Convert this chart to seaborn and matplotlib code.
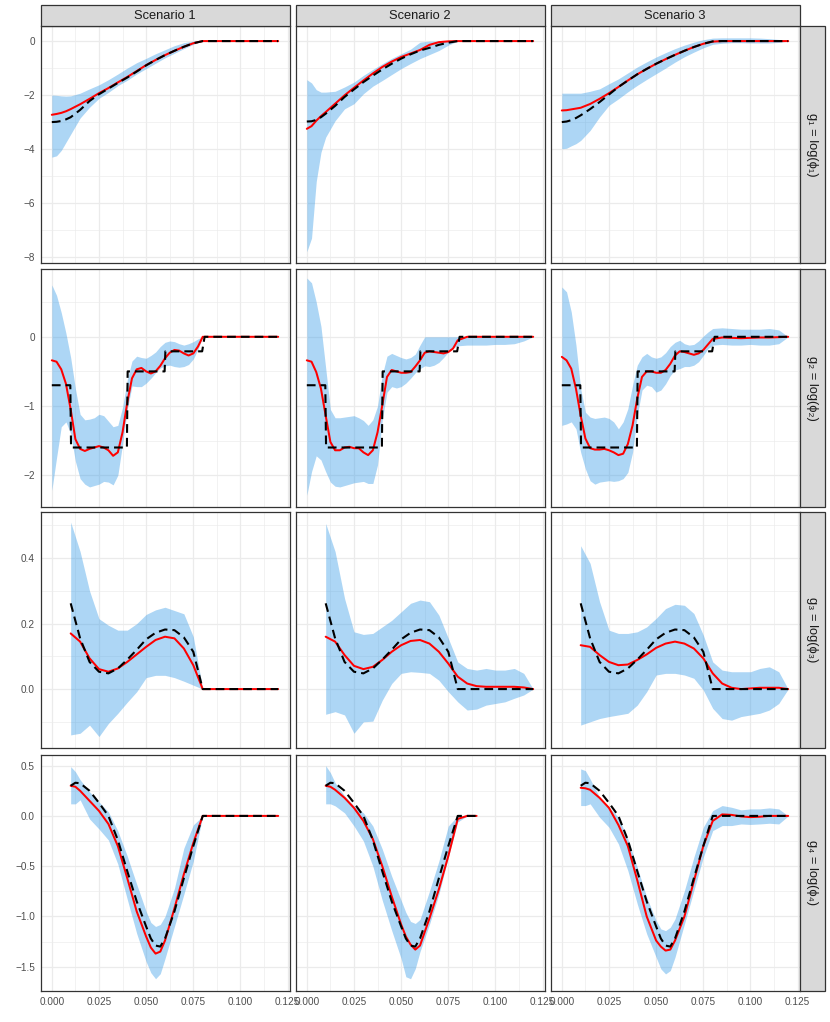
import matplotlib
matplotlib.use("Agg")
import matplotlib.pyplot as plt
import seaborn as sns
from matplotlib.patches import Rectangle

sns.set_style("white")
plt.rcParams["font.family"] = ["Liberation Sans", "DejaVu Sans"]
plt.rcParams["axes.unicode_minus"] = True

SCENARIOS = ["Scenario 1", "Scenario 2", "Scenario 3"]
ROW_LABELS = ["g\u2081 = log(\u03d5\u2081)", "g\u2082 = log(\u03d5\u2082)",
              "g\u2083 = log(\u03d5\u2083)", "g\u2084 = log(\u03d5\u2084)"]

# ---------------- row 1 : g1 ----------------
X_G1 = [0, 0.0025, 0.005, 0.0075, 0.01, 0.015, 0.02, 0.025, 0.03, 0.035, 0.04,
        0.045, 0.05, 0.055, 0.06, 0.065, 0.07, 0.075, 0.08, 0.085, 0.09, 0.095,
        0.1, 0.105, 0.11, 0.115, 0.12]
S1_G1_TRUE = [-3.0, -2.99, -2.96, -2.9, -2.82, -2.55, -2.22, -1.97, -1.76, -1.55, -1.35,
              -1.13, -0.9, -0.7, -0.52, -0.36, -0.21, -0.08, 0.0, 0, 0, 0, 0, 0, 0, 0, 0]
S1_G1_EST = [-2.73, -2.7, -2.66, -2.6, -2.52, -2.34, -2.14, -1.93, -1.74, -1.53, -1.33,
             -1.11, -0.89, -0.7, -0.52, -0.36, -0.21, -0.08, 0.0, 0, 0, 0, 0, 0, 0, 0, 0]
S1_G1_HI = [-2.0, -2.01, -2.03, -2.04, -2.03, -1.93, -1.77, -1.62, -1.43, -1.22, -1.0,
            -0.8, -0.64, -0.47, -0.32, -0.17, -0.06, 0.0, 0.0, 0, 0, 0, 0, 0, 0, 0, 0]
S1_G1_LO = [-4.3, -4.25, -4.05, -3.75, -3.45, -2.85, -2.45, -2.12, -1.9, -1.65, -1.45,
            -1.22, -1.02, -0.82, -0.62, -0.45, -0.28, -0.12, 0.0, 0, 0, 0, 0, 0, 0, 0, 0]

S2_G1_TRUE = [-2.98, -2.97, -2.92, -2.82, -2.69, -2.4, -2.07, -1.79, -1.52, -1.28, -1.05,
              -0.84, -0.65, -0.49, -0.35, -0.25, -0.14, -0.06, 0.0, 0, 0, 0, 0, 0, 0, 0, 0]
S2_G1_EST = [-3.25, -3.15, -2.95, -2.78, -2.63, -2.32, -2.01, -1.73, -1.46, -1.2, -0.96,
             -0.76, -0.59, -0.46, -0.33, -0.14, -0.04, -0.01, 0.0, 0, 0, 0, 0, 0, 0, 0, 0]
S2_G1_HI = [-1.43, -1.55, -1.8, -1.89, -1.89, -1.86, -1.7, -1.52, -1.27, -1.05, -0.84,
            -0.64, -0.47, -0.3, -0.04, 0.0, 0.0, 0.0, 0.0, 0, 0, 0, 0, 0, 0, 0, 0]
S2_G1_LO = [-7.8, -7.3, -5.2, -4.12, -3.56, -2.95, -2.51, -2.32, -1.95, -1.67, -1.46,
            -1.24, -1.02, -0.83, -0.65, -0.5, -0.35, -0.15, 0.0, 0, 0, 0, 0, 0, 0, 0, 0]

S3_G1_TRUE = [-3.0, -2.98, -2.93, -2.85, -2.75, -2.52, -2.26, -1.98, -1.7, -1.46, -1.23,
              -1.03, -0.84, -0.67, -0.51, -0.36, -0.22, -0.1, -0.01, 0, 0, 0, 0, 0, 0, 0, 0]
S3_G1_EST = [-2.57, -2.56, -2.53, -2.5, -2.47, -2.33, -2.14, -1.93, -1.7, -1.46, -1.23,
             -1.03, -0.84, -0.67, -0.51, -0.36, -0.22, -0.1, -0.02, 0, 0, 0, 0, 0, 0, 0, 0]
S3_G1_HI = [-1.93, -1.93, -1.93, -1.93, -1.93, -1.86, -1.77, -1.58, -1.4, -1.18, -0.96,
            -0.77, -0.59, -0.43, -0.28, -0.15, -0.04, 0.05, 0.11, 0.12, 0.12, 0.12, 0.12,
            0.11, 0.09, 0.06, 0.0]
S3_G1_LO = [-3.99, -3.97, -3.88, -3.8, -3.68, -3.31, -2.81, -2.38, -2.14, -1.88, -1.64,
            -1.42, -1.21, -1.0, -0.78, -0.58, -0.41, -0.25, -0.12, -0.08, -0.06, -0.06,
            -0.07, -0.07, -0.07, -0.05, 0.0]

# ---------------- row 2 : g2 ----------------
X_G2 = [0, 0.0025, 0.005, 0.0075, 0.01, 0.0125, 0.015, 0.0175, 0.02, 0.0225, 0.025,
        0.0275, 0.03, 0.0325, 0.035, 0.0375, 0.04, 0.0425, 0.045, 0.0475, 0.05, 0.0525,
        0.055, 0.0575, 0.06, 0.0625, 0.065, 0.0675, 0.07, 0.0725, 0.075, 0.0775, 0.08,
        0.085, 0.09, 0.095, 0.1, 0.105, 0.11, 0.115, 0.12]
X_G2_TRUE = [0, 0.0098, 0.0102, 0.0398, 0.0402, 0.0598, 0.0602, 0.0797, 0.081, 0.12]
G2_TRUE = [-0.7, -0.7, -1.6, -1.6, -0.5, -0.5, -0.21, -0.21, 0.0, 0.0]

S1_G2_EST = [-0.34, -0.36, -0.47, -0.68, -1.05, -1.48, -1.62, -1.65, -1.62, -1.6, -1.58,
             -1.6, -1.64, -1.72, -1.67, -1.38, -0.95, -0.6, -0.47, -0.45, -0.5, -0.53,
             -0.5, -0.42, -0.31, -0.23, -0.19, -0.2, -0.24, -0.27, -0.24, -0.14, 0.0,
             0, 0, 0, 0, 0, 0, 0, 0]
S1_G2_HI = [0.75, 0.6, 0.35, 0.05, -0.3, -0.75, -1.12, -1.2, -1.19, -1.17, -1.12,
            -1.14, -1.22, -1.3, -1.28, -1.02, -0.62, -0.35, -0.28, -0.3, -0.31, -0.27,
            -0.22, -0.14, -0.08, -0.06, -0.07, -0.1, -0.12, -0.1, -0.07, -0.03, 0.0,
            0, 0, 0, 0, 0, 0, 0, 0]
S1_G2_LO = [-2.22, -1.75, -1.3, -1.23, -1.4, -1.8, -2.05, -2.13, -2.17, -2.15, -2.13,
            -2.09, -2.1, -2.14, -2.0, -1.55, -1.05, -0.71, -0.72, -0.72, -0.67, -0.6,
            -0.52, -0.45, -0.42, -0.41, -0.43, -0.44, -0.43, -0.4, -0.32, -0.18, 0.0,
            0, 0, 0, 0, 0, 0, 0, 0]

S2_G2_EST = [-0.34, -0.36, -0.51, -0.75, -1.14, -1.52, -1.64, -1.64, -1.6, -1.59, -1.61,
             -1.61, -1.67, -1.71, -1.64, -1.38, -0.99, -0.58, -0.48, -0.5, -0.52, -0.52,
             -0.51, -0.43, -0.34, -0.23, -0.21, -0.22, -0.23, -0.24, -0.22, -0.17, -0.05,
             0, 0, 0, 0, 0, 0, 0, 0]
S2_G2_HI = [0.85, 0.78, 0.5, 0.15, -0.45, -1.05, -1.17, -1.17, -1.16, -1.15, -1.14,
            -1.17, -1.21, -1.28, -1.2, -1.0, -0.55, -0.28, -0.24, -0.27, -0.3, -0.32,
            -0.3, -0.25, -0.12, 0.0, 0.0, 0.0, 0.0, 0.0, 0.0, 0.0, 0.0,
            0, 0, 0, 0, 0, 0, 0, 0]
S2_G2_LO = [-2.29, -1.95, -1.72, -1.78, -1.95, -2.1, -2.16, -2.17, -2.15, -2.13, -2.11,
            -2.1, -2.09, -2.12, -2.12, -1.85, -1.2, -0.8, -0.72, -0.74, -0.72, -0.67,
            -0.6, -0.52, -0.46, -0.42, -0.43, -0.41, -0.37, -0.3, -0.22, -0.16, -0.13,
            -0.12, -0.12, -0.12, -0.11, -0.11, -0.1, -0.06, 0.0]

S3_G2_EST = [-0.29, -0.34, -0.46, -0.75, -1.14, -1.47, -1.61, -1.63, -1.63, -1.62, -1.64,
             -1.67, -1.71, -1.69, -1.55, -1.28, -0.89, -0.58, -0.5, -0.5, -0.52, -0.52,
             -0.48, -0.39, -0.27, -0.21, -0.22, -0.24, -0.26, -0.24, -0.19, -0.11, -0.03,
             -0.01, -0.015, -0.02, -0.015, -0.01, -0.01, -0.005, 0.0]
S3_G2_HI = [0.72, 0.65, 0.36, -0.12, -0.75, -1.09, -1.16, -1.18, -1.17, -1.16, -1.18,
            -1.23, -1.33, -1.23, -1.04, -0.7, -0.41, -0.29, -0.24, -0.29, -0.31, -0.29,
            -0.23, -0.14, -0.08, -0.05, -0.1, -0.12, -0.11, -0.06, 0.01, 0.07, 0.12,
            0.13, 0.12, 0.11, 0.11, 0.11, 0.12, 0.1, 0.0]
S3_G2_LO = [-1.28, -1.26, -1.23, -1.33, -1.67, -1.91, -2.08, -2.13, -2.1, -2.09, -2.08,
            -2.09, -2.08, -2.05, -1.96, -1.67, -1.14, -0.77, -0.7, -0.72, -0.8, -0.77,
            -0.68, -0.56, -0.48, -0.46, -0.43, -0.43, -0.41, -0.36, -0.27, -0.17, -0.12,
            -0.11, -0.12, -0.12, -0.11, -0.12, -0.12, -0.1, 0.0]

# ---------------- row 3 : g3 ----------------
X_G3 = [0.01, 0.015, 0.02, 0.025, 0.03, 0.035, 0.04, 0.045, 0.05, 0.055, 0.06, 0.065,
        0.07, 0.075, 0.08, 0.085, 0.09, 0.095, 0.1, 0.105, 0.11, 0.115, 0.12]
G3_TRUE = [0.262, 0.155, 0.083, 0.053, 0.048, 0.063, 0.09, 0.12, 0.152, 0.172, 0.182,
           0.18, 0.158, 0.114, 0.0, 0, 0, 0, 0, 0, 0, 0, 0]

S1_G3_EST = [0.17, 0.145, 0.094, 0.061, 0.053, 0.063, 0.083, 0.106, 0.129, 0.15, 0.16,
             0.155, 0.124, 0.073, 0.0, 0, 0, 0, 0, 0, 0, 0, 0]
S1_G3_HI = [0.51, 0.42, 0.3, 0.215, 0.195, 0.18, 0.18, 0.2, 0.228, 0.242, 0.25, 0.24,
            0.23, 0.16, 0.0, 0, 0, 0, 0, 0, 0, 0, 0]
S1_G3_LO = [-0.14, -0.135, -0.11, -0.145, -0.105, -0.074, -0.04, -0.008, 0.035, 0.042,
            0.042, 0.035, 0.024, 0.012, 0.0, 0, 0, 0, 0, 0, 0, 0, 0]

S2_G3_EST = [0.16, 0.145, 0.104, 0.071, 0.061, 0.068, 0.089, 0.114, 0.134, 0.147, 0.15,
             0.139, 0.114, 0.078, 0.038, 0.017, 0.009, 0.007, 0.007, 0.007, 0.007, 0.005, 0.0]
S2_G3_HI = [0.506, 0.42, 0.277, 0.175, 0.167, 0.17, 0.19, 0.21, 0.236, 0.262, 0.272,
            0.267, 0.226, 0.155, 0.083, 0.063, 0.058, 0.063, 0.058, 0.058, 0.063, 0.048, 0.0]
S2_G3_LO = [-0.077, -0.069, -0.079, -0.135, -0.1, -0.098, -0.034, 0.017, 0.048, 0.053,
            0.051, 0.048, 0.027, -0.008, -0.039, -0.064, -0.061, -0.049, -0.044, -0.039,
            -0.028, -0.018, 0.0]

S3_G3_EST = [0.134, 0.129, 0.104, 0.083, 0.073, 0.075, 0.089, 0.106, 0.126, 0.139, 0.145,
             0.139, 0.124, 0.094, 0.048, 0.017, 0.004, 0.0, 0.002, 0.004, 0.004, 0.004, 0.0]
S3_G3_HI = [0.438, 0.384, 0.267, 0.18, 0.17, 0.17, 0.175, 0.19, 0.216, 0.246, 0.259,
            0.256, 0.231, 0.165, 0.083, 0.058, 0.053, 0.053, 0.053, 0.063, 0.068, 0.053, 0.0]
S3_G3_LO = [-0.11, -0.1, -0.09, -0.084, -0.079, -0.074, -0.049, -0.008, 0.043, 0.048,
            0.048, 0.043, 0.033, -0.003, -0.059, -0.09, -0.095, -0.084, -0.079, -0.074,
            -0.064, -0.044, 0.0]

# ---------------- row 4 : g4 ----------------
X_G4 = [0.01, 0.0125, 0.015, 0.02, 0.025, 0.03, 0.035, 0.04, 0.045, 0.05, 0.0525, 0.055,
        0.0575, 0.06, 0.065, 0.07, 0.075, 0.08, 0.085, 0.09, 0.095, 0.1, 0.105, 0.11,
        0.115, 0.12]
X_G4_S2 = [0.01, 0.0125, 0.015, 0.02, 0.025, 0.03, 0.035, 0.04, 0.045, 0.05, 0.0525,
           0.055, 0.0575, 0.06, 0.065, 0.07, 0.075, 0.08, 0.085, 0.09]
G4_TRUE = [0.30, 0.33, 0.325, 0.25, 0.13, 0.0, -0.24, -0.55, -0.85, -1.1, -1.22, -1.29,
           -1.3, -1.22, -0.95, -0.62, -0.3, 0.0, 0, 0, 0, 0, 0, 0, 0, 0]
G4_TRUE_S2 = [0.30, 0.33, 0.325, 0.25, 0.13, 0.0, -0.24, -0.55, -0.85, -1.1, -1.22, -1.29,
              -1.3, -1.22, -0.95, -0.62, -0.3, 0.0, 0, 0]

S1_G4_EST = [0.30, 0.29, 0.25, 0.15, 0.05, -0.08, -0.3, -0.62, -0.95, -1.2, -1.31, -1.37,
             -1.35, -1.24, -0.92, -0.58, -0.27, 0.0, 0, 0, 0, 0, 0, 0, 0, 0]
S1_G4_HI = [0.49, 0.44, 0.36, 0.24, 0.14, 0.04, -0.15, -0.4, -0.68, -0.95, -1.06, -1.1,
            -1.08, -1.0, -0.72, -0.32, -0.09, 0.0, 0, 0, 0, 0, 0, 0, 0, 0]
S1_G4_LO = [0.12, 0.12, 0.16, -0.03, -0.13, -0.24, -0.48, -0.83, -1.17, -1.45, -1.56,
            -1.62, -1.57, -1.42, -1.1, -0.78, -0.45, 0.0, 0, 0, 0, 0, 0, 0, 0, 0]

S2_G4_EST = [0.30, 0.29, 0.26, 0.18, 0.08, -0.05, -0.23, -0.5, -0.8, -1.08, -1.2, -1.28,
             -1.33, -1.29, -1.02, -0.73, -0.4, -0.03, 0.0, 0.0]
S2_G4_HI = [0.5, 0.43, 0.33, 0.2, 0.1, 0.03, -0.1, -0.33, -0.6, -0.84, -0.96, -1.05,
            -1.07, -1.03, -0.75, -0.45, -0.1, 0.0, 0.0, 0.0]
S2_G4_LO = [0.12, 0.12, 0.1, 0.03, -0.1, -0.25, -0.5, -0.84, -1.14, -1.42, -1.6, -1.62,
            -1.52, -1.35, -1.08, -0.78, -0.41, -0.06, 0.0, 0.0]

S3_G4_EST = [0.28, 0.275, 0.26, 0.18, 0.08, -0.09, -0.3, -0.64, -1.0, -1.24, -1.3, -1.34,
             -1.33, -1.24, -1.0, -0.65, -0.3, -0.05, 0.015, 0.01, -0.005, -0.012, -0.008,
             0.0, 0.0, 0.0]
S3_G4_HI = [0.468, 0.45, 0.368, 0.186, 0.086, -0.013, -0.229, -0.511, -0.809, -1.041,
            -1.124, -1.141, -1.108, -1.025, -0.743, -0.411, -0.113, 0.053, 0.103, 0.086,
            0.06, 0.07, 0.07, 0.08, 0.07, 0.0]
S3_G4_LO = [0.103, 0.103, 0.12, -0.013, -0.113, -0.279, -0.544, -0.876, -1.174, -1.406,
            -1.522, -1.572, -1.539, -1.406, -1.075, -0.743, -0.411, -0.146, -0.096, -0.096,
            -0.08, -0.085, -0.08, -0.073, -0.08, 0.0]

# axis settings per row
YLIM = [(-8.22, 0.54), (-2.46, 0.98), (-0.18, 0.541), (-1.742, 0.606)]
YTICKS = [[-8, -6, -4, -2, 0], [-2, -1, 0], [0.0, 0.2, 0.4], [-1.5, -1.0, -0.5, 0.0, 0.5]]
YTICKLABELS = [["\u22128", "\u22126", "\u22124", "\u22122", "0"],
               ["\u22122", "\u22121", "0"],
               ["0.0", "0.2", "0.4"],
               ["\u22121.5", "\u22121.0", "\u22120.5", "0.0", "0.5"]]
YMINOR = [[-7, -5, -3, -1], [-1.5, -0.5, 0.5], [-0.1, 0.1, 0.3, 0.5],
          [-1.25, -0.75, -0.25, 0.25]]
XTICKS = [0.0, 0.025, 0.05, 0.075, 0.1, 0.125]
XTICKLABELS = ["0.000", "0.025", "0.050", "0.075", "0.100", "0.125"]
XMINOR = [0.0125, 0.0375, 0.0625, 0.0875, 0.1125]
XLIM = (-0.006, 0.126)

PANELS = [
    [(X_G1, S1_G1_EST, S1_G1_LO, S1_G1_HI, X_G1, S1_G1_TRUE),
     (X_G1, S2_G1_EST, S2_G1_LO, S2_G1_HI, X_G1, S2_G1_TRUE),
     (X_G1, S3_G1_EST, S3_G1_LO, S3_G1_HI, X_G1, S3_G1_TRUE)],
    [(X_G2, S1_G2_EST, S1_G2_LO, S1_G2_HI, X_G2_TRUE, G2_TRUE),
     (X_G2, S2_G2_EST, S2_G2_LO, S2_G2_HI, X_G2_TRUE, G2_TRUE),
     (X_G2, S3_G2_EST, S3_G2_LO, S3_G2_HI, X_G2_TRUE, G2_TRUE)],
    [(X_G3, S1_G3_EST, S1_G3_LO, S1_G3_HI, X_G3, G3_TRUE),
     (X_G3, S2_G3_EST, S2_G3_LO, S2_G3_HI, X_G3, G3_TRUE),
     (X_G3, S3_G3_EST, S3_G3_LO, S3_G3_HI, X_G3, G3_TRUE)],
    [(X_G4, S1_G4_EST, S1_G4_LO, S1_G4_HI, X_G4, G4_TRUE),
     (X_G4_S2, S2_G4_EST, S2_G4_LO, S2_G4_HI, X_G4_S2, G4_TRUE_S2),
     (X_G4, S3_G4_EST, S3_G4_LO, S3_G4_HI, X_G4, G4_TRUE)],
]

W, H = 830, 1022
fig = plt.figure(figsize=(W / 100, H / 100), dpi=100)
fig.patch.set_facecolor("white")

COL_LEFT = [40.5, 295.5, 550.5]
PW = 249.0
ROW_TOP = [26.5, 269.0, 512.0, 755.0]
ROW_BOT = [263.0, 507.0, 748.0, 991.0]
BORDER = "#333333"
GRID = "#EBEBEB"
RIBBON = "#3399E6"

for r in range(4):
    for c in range(3):
        x, est, lo, hi, tx, tr = PANELS[r][c]
        l, t, b = COL_LEFT[c], ROW_TOP[r], ROW_BOT[r]
        ax = fig.add_axes([l / W, 1 - b / H, PW / W, (b - t) / H])
        ax.set_facecolor("white")
        ax.set_axisbelow(True)
        ax.fill_between(x, lo, hi, color=RIBBON, alpha=0.4, linewidth=0, zorder=1)
        sns.lineplot(x=x, y=est, ax=ax, color="#FF0000", linewidth=1.45,
                     estimator=None, sort=False, legend=False, zorder=2)
        sns.lineplot(x=tx, y=tr, ax=ax, color="black", linewidth=1.5,
                     linestyle=(0, (4.2, 2.4)), estimator=None, sort=False,
                     legend=False, zorder=3)
        ax.set_xlim(*XLIM)
        ax.set_ylim(*YLIM[r])
        ax.set_xticks(XTICKS)
        ax.set_xticks(XMINOR, minor=True)
        ax.set_yticks(YTICKS[r])
        ax.set_yticks(YMINOR[r], minor=True)
        ax.grid(which="major", color=GRID, linewidth=0.9)
        ax.grid(which="minor", color=GRID, linewidth=0.45)
        ax.set_xlabel("")
        ax.set_ylabel("")
        for sp in ax.spines.values():
            sp.set_visible(True)
            sp.set_color(BORDER)
            sp.set_linewidth(0.9)
        ax.tick_params(which="minor", length=0)
        if c == 0:
            ax.set_yticklabels(YTICKLABELS[r])
            ax.tick_params(axis="y", which="major", length=2.5, width=0.8,
                           color=BORDER, labelsize=7.2, labelcolor="#4D4D4D", pad=1.5)
        else:
            ax.tick_params(axis="y", which="major", length=0, labelleft=False)
        if r == 3:
            ax.set_xticklabels(XTICKLABELS)
            ax.tick_params(axis="x", which="major", length=2.5, width=0.8,
                           color=BORDER, labelsize=7.2, labelcolor="#4D4D4D", pad=1.5)
        else:
            ax.tick_params(axis="x", which="major", length=0, labelbottom=False)

# top strips
for c in range(3):
    l = COL_LEFT[c]
    fig.add_artist(Rectangle((l / W, 1 - 26.5 / H), PW / W, 21.5 / H,
                             transform=fig.transFigure, facecolor="#D9D9D9",
                             edgecolor=BORDER, linewidth=0.9))
    fig.text((l + PW / 2) / W, 1 - 15.8 / H, SCENARIOS[c], ha="center", va="center",
             fontsize=9.3, color="#1A1A1A")

# right strips
for r in range(4):
    t, b = ROW_TOP[r], ROW_BOT[r]
    fig.add_artist(Rectangle((799.5 / W, 1 - b / H), 25.0 / W, (b - t) / H,
                             transform=fig.transFigure, facecolor="#D9D9D9",
                             edgecolor=BORDER, linewidth=0.9))
    fig.text(812.0 / W, 1 - (t + b) / 2 / H, ROW_LABELS[r], ha="center", va="center",
             rotation=-90, fontsize=9.3, color="#1A1A1A")

fig.savefig("out.png", dpi=100, facecolor="white")
